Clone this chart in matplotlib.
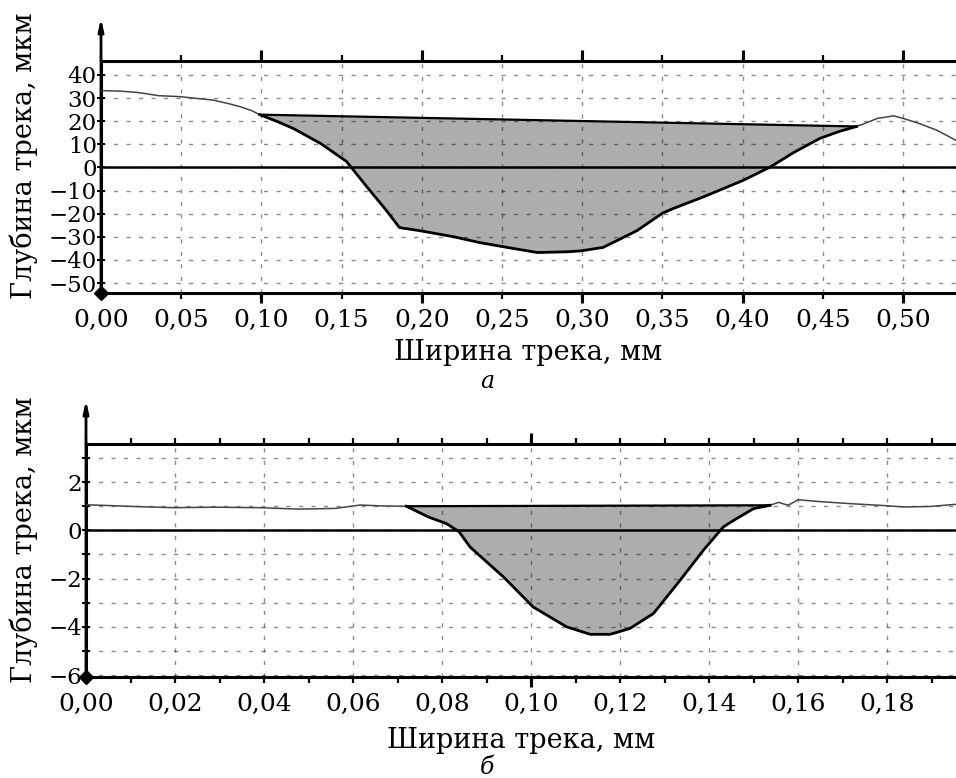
import numpy as np
import matplotlib
matplotlib.use("Agg")
import matplotlib.pyplot as plt
from matplotlib.ticker import MultipleLocator, FuncFormatter

plt.rcParams['font.family'] = ['DejaVu Serif']

# --- панель а: профиль трека (мм, мкм)
a_left_x = [0.000, 0.012, 0.024, 0.036, 0.049, 0.060, 0.070, 0.080, 0.087, 0.094, 0.099]
a_left_y = [33.2, 33.0, 32.3, 31.0, 30.6, 29.8, 29.1, 27.5, 26.2, 24.5, 22.8]
a_dip_x = [0.099, 0.110, 0.120, 0.137, 0.153, 0.166, 0.178, 0.186, 0.199, 0.220, 0.236,
           0.255, 0.272, 0.290, 0.299, 0.313, 0.334, 0.350, 0.357, 0.375, 0.400, 0.417,
           0.432, 0.448, 0.460, 0.471]
a_dip_y = [22.8, 19.8, 16.8, 10.3, 2.6, -8.6, -18.7, -26.0, -27.4, -30.0, -32.5,
           -34.8, -36.8, -36.5, -36.1, -34.6, -27.4, -19.8, -17.7, -12.9, -5.7, 0.1,
           6.5, 12.5, 15.5, 17.7]
a_right_x = [0.471, 0.478, 0.484, 0.490, 0.494, 0.500, 0.510, 0.521, 0.533]
a_right_y = [17.7, 19.5, 21.2, 21.8, 22.3, 21.2, 19.0, 16.1, 11.7]

# --- панель б
b_left_x = [0.000, 0.005, 0.0106, 0.0196, 0.029, 0.039, 0.048, 0.056, 0.0616, 0.067, 0.072]
b_left_y = [1.06, 1.03, 0.99, 0.94, 0.96, 0.94, 0.88, 0.91, 1.05, 1.01, 1.00]
b_dip_x = [0.072, 0.077, 0.081, 0.0838, 0.0863, 0.0938, 0.1005, 0.108, 0.1133, 0.1178,
           0.1222, 0.1275, 0.1335, 0.1387, 0.1432, 0.1455, 0.150, 0.1537]
b_dip_y = [1.00, 0.55, 0.28, -0.05, -0.69, -1.93, -3.18, -4.00, -4.31, -4.31,
           -4.07, -3.45, -2.07, -0.83, 0.14, 0.41, 0.90, 1.04]
b_right_x = [0.1537, 0.1556, 0.1578, 0.160, 0.165, 0.1724, 0.180, 0.1837, 0.1897, 0.1955]
b_right_y = [1.04, 1.16, 1.04, 1.27, 1.19, 1.10, 1.02, 0.97, 0.99, 1.08]

xlabel = "Ширина трека, мм"
ylabel = "Глубина трека, мкм"

W, H = 956, 778
fig = plt.figure(figsize=(W / 100, H / 100), dpi=100)


def px_axes(left, top, bottom):
    return fig.add_axes([left / W, 1 - bottom / H, 1 - left / W, (bottom - top) / H])


def panel(ax, lx, ly, dx, dy, rx, ry, xlim, ylim, xmaj, xmin, ymaj, ymin, longstep, arrow_top):
    ax.set_xlim(*xlim)
    ax.set_ylim(*ylim)
    # заливка: профиль + хорда (полигон замыкается прямой)
    ax.fill(dx, dy, color='#adadad', lw=0, zorder=1)
    # сетка
    ax.xaxis.set_major_locator(MultipleLocator(xmaj))
    ax.xaxis.set_minor_locator(MultipleLocator(xmin))
    ax.yaxis.set_major_locator(MultipleLocator(ymaj))
    ax.yaxis.set_minor_locator(MultipleLocator(ymin))
    ax.grid(axis='x', which='major', color='k', alpha=0.45, lw=1, ls=(0, (3, 6)), zorder=2)
    ax.grid(axis='y', which='both', color='k', alpha=0.45, lw=1, ls=(0, (3, 6)), zorder=2)
    ax.axhline(0, color='k', lw=1.8, zorder=3)
    # профиль
    ax.plot(lx + dx[1:-1] + rx, ly + dy[1:-1] + ry, color='#444444', lw=1.1, zorder=4)
    ax.plot(dx, dy, color='k', lw=2, zorder=5)
    ax.plot([dx[0], dx[-1]], [dy[0], dy[-1]], color='k', lw=1.6, zorder=5)

    ax.spines['right'].set_visible(False)
    for s in ['top', 'bottom', 'left']:
        ax.spines[s].set_linewidth(2.2)
    ax.tick_params(axis='x', which='both', top=True, bottom=True, direction='out',
                   length=4.5, width=1.6, labelsize=18, pad=7)
    ax.tick_params(axis='y', which='both', direction='inout', length=6, width=1.4,
                   labelsize=16.5, pad=0)
    ax.xaxis.set_major_formatter(FuncFormatter(lambda v, p: f"{v:.2f}".replace('.', ',')))
    ax.yaxis.set_major_formatter(FuncFormatter(lambda v, p: f"{v:.0f}".replace('-', '\u2212')))
    ax.tick_params(axis='y', which='minor', labelleft=False)

    # длинные штрихи
    longs = np.arange(0, xlim[1] + 1e-9, longstep)[1:]
    tr = ax.get_xaxis_transform()
    ax.plot(longs, np.ones(len(longs)), ls='none', marker=2, ms=8, mew=2.2, color='k',
            transform=tr, clip_on=False, zorder=6)
    ax.plot(longs, np.zeros(len(longs)), ls='none', marker=3, ms=7, mew=2.2, color='k',
            transform=tr, clip_on=False, zorder=6)
    # стрелка оси и ромб в начале координат
    ax.annotate('', xy=(0, arrow_top), xytext=(0, 0), xycoords='axes fraction',
                arrowprops=dict(arrowstyle='-|>,head_length=0.7,head_width=0.15',
                                color='k', lw=2), annotation_clip=False)
    ax.plot([0], [0], marker='D', ms=7, color='k', transform=ax.transAxes, clip_on=False, zorder=7)


ax1 = px_axes(101, 61, 293)
panel(ax1, a_left_x, a_left_y, a_dip_x, a_dip_y, a_right_x, a_right_y,
      (0, 0.533), (-54.3, 46.0), 0.05, 0.05, 10, 10, 0.10, (293 - 15) / (293 - 61))

ax2 = px_axes(86, 444, 677)
panel(ax2, b_left_x, b_left_y, b_dip_x, b_dip_y, b_right_x, b_right_y,
      (0, 0.1955), (-6.08, 3.58), 0.02, 0.01, 2, 1, 0.10, (677 - 397) / (677 - 444))

fig.text(528 / W, 1 - 353 / H, xlabel, ha='center', va='center', fontsize=19.5)
fig.text(521 / W, 1 - 740 / H, xlabel, ha='center', va='center', fontsize=19.5)
fig.text(24 / W, 1 - 156 / H, ylabel, ha='center', va='center', rotation=90, fontsize=19.5)
fig.text(24 / W, 1 - 540 / H, ylabel, ha='center', va='center', rotation=90, fontsize=19.5)
fig.text(487 / W, 1 - 381 / H, "а", ha='center', va='center', fontsize=17, style='italic')
fig.text(487 / W, 1 - 767 / H, "б", ha='center', va='center', fontsize=17, style='italic')

fig.savefig("out.png", dpi=100)
